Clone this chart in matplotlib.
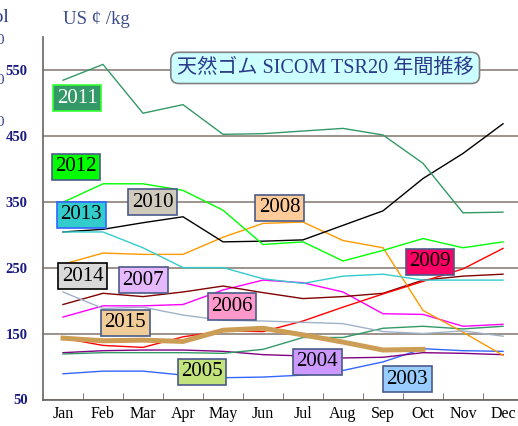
import numpy as np
import matplotlib
matplotlib.use('Agg')
import matplotlib.pyplot as plt
from matplotlib.ticker import FixedLocator

months = ['Jan', 'Feb', 'Mar', 'Apr', 'May', 'Jun', 'Jul', 'Aug', 'Sep', 'Oct', 'Nov', 'Dec']

# monthly prices, US cents / kg
y2003 = [89, 93, 93, 87, 83, 84, 87, 94, 107, 127, 124, 123]
y2004 = [121, 124, 125, 125, 123, 118, 116, 113, 114, 121, 120, 118]
y2005 = [119, 121, 121, 121, 120, 126, 144, 144, 158, 161, 157, 161]
y2006 = [175, 192, 192, 194, 216, 231, 227, 213, 180, 179, 161, 164]
y2007 = [194, 211, 206, 213, 222, 212, 203, 206, 211, 231, 237, 240]
y2008 = [255, 272, 270, 270, 296, 317, 319, 291, 280, 185, 152, 117]
y2009 = [143, 132, 129, 145, 154, 153, 169, 190, 210, 229, 248, 279]
y2010 = [304, 308, 318, 327, 289, 290, 292, 314, 336, 385, 423, 468]
y2011 = [534, 558, 484, 497, 452, 453, 457, 461, 451, 408, 333, 334]
y2012 = [349, 377, 377, 367, 337, 285, 289, 260, 276, 294, 280, 289]
y2013 = [304, 304, 280, 250, 250, 233, 226, 237, 240, 231, 231, 231]
y2014 = [213, 188, 190, 178, 170, 169, 167, 165, 153, 150, 154, 146]
y2015 = [143, 139, 140, 138, 155, 158, 148, 137, 125, 126]

years = ['2003', '2004', '2005', '2006', '2007', '2008', '2009',
         '2010', '2011', '2012', '2013', '2014', '2015']
series = [y2003, y2004, y2005, y2006, y2007, y2008, y2009,
          y2010, y2011, y2012, y2013, y2014, y2015]

line_colors = ['#3366ff', '#800080', '#339966', '#ff00ff', '#800000', '#ff9900', '#ff0000',
               '#000000', '#339966', '#00ff00', '#33cccc', '#a0b2c6', '#cc9e55']
box_colors = ['#99ccff', '#cc99ff', '#c2e27c', '#ff99cc', '#e6b9ff', '#ffcc99', '#ff0066',
              '#cfcabc', '#339966', '#00ff00', '#33cccc', '#d9d9d9', '#f0cc98']
box_edges = ['#4a5a8a', '#4a5a8a', '#4a5a8a', '#4a5a8a', '#4a5a8a', '#4a5a8a', '#4a5a8a',
             '#4a5a8a', '#33ff33', '#4a5a8a', '#3366ff', '#000000', '#4a5a8a']
# label positions (month index, value)
label_pos = [(8.61, 81), (6.36, 107), (3.475, 92), (4.225, 191), (2.01, 231), (5.41, 341), (9.175, 259),
             (2.24, 349), (0.36, 507), (0.33, 403), (0.46, 330), (0.49, 237), (1.56, 166)]

serif = ['Liberation Serif', 'Noto Sans CJK JP', 'DejaVu Sans']

fig = plt.figure(figsize=(5.18, 4.26), dpi=100)
ax = fig.add_axes([43/518, 26.5/426, 475/518, 362.8/426])

x = np.arange(12)
for i in range(len(series)):
    lw = 3.6 if years[i] == '2015' else 1.0
    ax.plot(x[:len(series[i])], series[i], color=line_colors[i], lw=lw, zorder=3,
            solid_joinstyle='miter')

for i in range(len(years)):
    tc = 'white' if years[i] == '2011' else 'black'
    ax.text(label_pos[i][0], label_pos[i][1], years[i], fontsize=15, family=serif,
            color=tc, ha='center', va='center', zorder=5,
            bbox=dict(boxstyle='square,pad=0.17', fc=box_colors[i], ec=box_edges[i], lw=1.2))

ax.set_xlim(-0.5, 11.375)
ax.set_ylim(50, 600)
ax.set_xticks(x)
ax.set_xticklabels(months, family=serif, fontsize=11.5)
ax.xaxis.set_minor_locator(FixedLocator(np.arange(0.5, 11, 1)))
ax.tick_params(axis='x', which='major', length=0, pad=5)
ax.tick_params(axis='x', which='minor', direction='in', length=5, color='#606060')
ax.set_yticks([50, 150, 250, 350, 450, 550])
ax.set_yticklabels(['50', '150', '250', '350', '450', '550'], family=serif, fontsize=10.5,
                   fontweight='bold', color='#1a1a80')
ax.tick_params(axis='y', length=0, pad=11)
ax.grid(axis='y', color='#8a8078', lw=1.2)
ax.set_axisbelow(True)
for s in ['top', 'right']:
    ax.spines[s].set_visible(False)
for s in ['left', 'bottom']:
    ax.spines[s].set_color('#6a6460')
    ax.spines[s].set_linewidth(1.2)

ax.text(0.594, 0.914, '天然ゴム SICOM TSR20 年間推移', transform=ax.transAxes, fontsize=14.5,
        family=serif, color='#2b3a8a', ha='center', va='center', zorder=6,
        bbox=dict(boxstyle='round,pad=0.3,rounding_size=0.4', fc='#ccffff', ec='#808080', lw=1.2))

fig.text(63/518, 1 - 19/426, 'US ¢ /kg', fontsize=13.5, family=serif, color='#3c4a8c',
         ha='left', va='center')
# pieces of a neighbouring axis, cut off at the left edge in the original
fig.text(10/518, 1 - 18/426, 'Vol', fontsize=14, family=serif, color='#2b3a8a', ha='right', va='center')
for yy in [40, 80, 123]:
    fig.text(5/518, 1 - yy/426, '00', fontsize=10.5, family=serif, color='#2b3a8a', ha='right', va='center')

plt.savefig('out.png', dpi=100)
